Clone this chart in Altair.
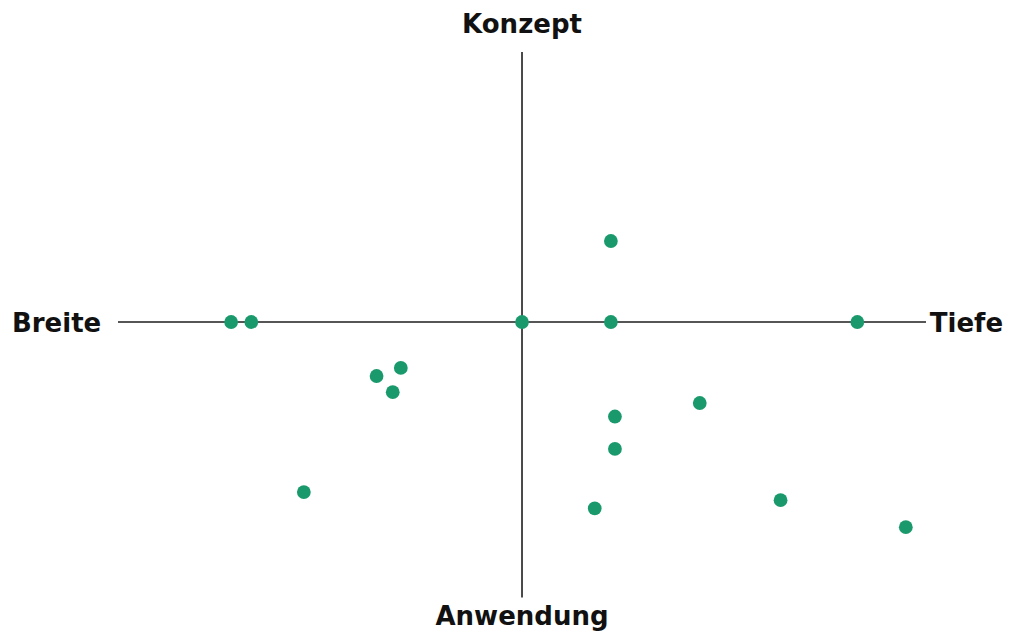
import altair as alt
import pandas as pd

# Point positions (x: Breite(-) .. Tiefe(+), y: Anwendung(-) .. Konzept(+))
xs = [-7.2, -6.7, 0.0, 2.2, 8.3, 2.2, -3.6, -3.0, -3.2, -5.4, 2.3, 2.3, 4.4, 1.8, 6.4, 9.5]
ys = [0.0, 0.0, 0.0, 0.0, 0.0, 3.0, -2.0, -1.7, -2.6, -6.3, -3.5, -4.7, -3.0, -6.9, -6.6, -7.6]

label_text = ["Konzept", "Anwendung", "Breite", "Tiefe"]
label_x = [0.0, 0.0, -11.52, 11.0]
label_y = [10.70, -11.22, -0.37, -0.37]

axis_x1 = [-10.0, 0.0]
axis_x2 = [10.0, 0.0]
axis_y1 = [0.0, 10.0]
axis_y2 = [0.0, -10.2]

pts = pd.DataFrame({"x": xs, "y": ys})
labels = pd.DataFrame({"t": label_text, "x": label_x, "y": label_y})
axes = pd.DataFrame({"x": axis_x1, "x2": axis_x2, "y": axis_y1, "y2": axis_y2})

xscale = alt.Scale(domain=[-12.723, 11.980], nice=False, zero=False)
yscale = alt.Scale(domain=[-11.444, 11.63], nice=False, zero=False)

rules = alt.Chart(axes).mark_rule(color="#1e1e1e", strokeWidth=1.6).encode(
    x=alt.X("x:Q", scale=xscale, axis=None),
    x2="x2:Q",
    y=alt.Y("y:Q", scale=yscale, axis=None),
    y2="y2:Q",
)

points = alt.Chart(pts).mark_circle(size=190, color="#1a9a6c", opacity=1).encode(
    x=alt.X("x:Q", scale=xscale, axis=None),
    y=alt.Y("y:Q", scale=yscale, axis=None),
)

text = alt.Chart(labels).mark_text(
    font="DejaVu Sans", fontWeight="bold", fontSize=26, color="#111111",
    align="center", baseline="alphabetic"
).encode(
    x=alt.X("x:Q", scale=xscale, axis=None),
    y=alt.Y("y:Q", scale=yscale, axis=None),
    text="t:N",
)

chart = alt.layer(rules, points, text).properties(
    width=998, height=623, padding=0, background="white",
    autosize=alt.AutoSizeParams(type="none"),
).configure_view(stroke=None)

chart.save("out.html", embed_options={"renderer": "svg", "actions": False})
